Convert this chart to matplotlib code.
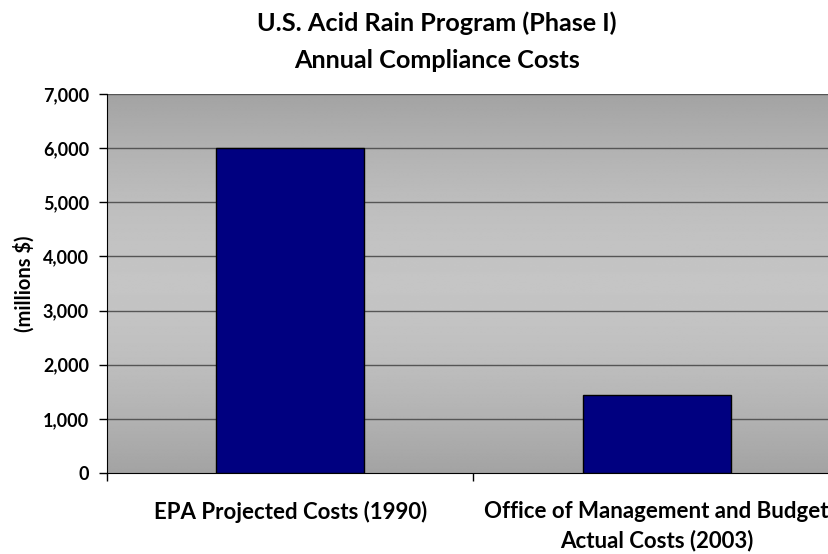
import matplotlib.pyplot as plt
import numpy as np

categories = ['EPA Projected Costs (1990)', 'Office of Management and Budget\nActual Costs (2003)']
costs = [6000, 1440]
yticks = [0, 1000, 2000, 3000, 4000, 5000, 6000, 7000]

plt.rcParams['font.family'] = ['Lato', 'DejaVu Sans']
plt.rcParams['font.weight'] = 'bold'

W, H = 829, 554
fig = plt.figure(figsize=(W / 100, H / 100), dpi=100)
# plot area runs a little past the right edge of the picture
ax = fig.add_axes([107 / W, 1 - 473 / H, 733 / W, (473 - 94) / H])

# gray gradient background, lighter in the middle
t = np.linspace(0, 1, 256)
shade = 0.64 + 0.13 * np.sin(np.pi * t)
grad = np.repeat(shade[:, None], 2, axis=1)
ax.imshow(grad, cmap='gray', vmin=0, vmax=1, aspect='auto',
          extent=[-0.5, 1.5, 0, 7000], zorder=0, interpolation='bilinear')

x = np.arange(len(categories))
ax.bar(x, costs, width=0.404, color='#000080', edgecolor='black', linewidth=1, zorder=3)

ax.set_xlim(-0.5, 1.5)
ax.set_ylim(0, 7000)
ax.set_yticks(yticks)
ax.set_yticklabels([f'{v:,}' for v in yticks], fontsize=13, fontweight='bold')
for v in yticks[1:]:
    ax.axhline(v, color='#555555', linewidth=1, zorder=1)

ax.set_xticks([-0.5, 0.5, 1.5])
ax.set_xticklabels([])
ax.set_xticks(x, minor=True)
ax.set_xticklabels(categories, minor=True, fontsize=16, fontweight='bold', linespacing=1.45)
ax.tick_params(axis='x', which='minor', length=0, pad=20)
ax.tick_params(axis='x', which='major', length=6, width=1)
ax.tick_params(axis='y', length=6, width=1, pad=7)

for s in ['top', 'right']:
    ax.spines[s].set_visible(False)
ax.spines['left'].set_color('black')
ax.spines['bottom'].set_color('black')

fig.text(24 / W, 1 - 284 / H, '(millions $)', rotation=90, ha='center', va='center',
         fontsize=14.5, fontweight='bold')
fig.text(437 / W, 1 - 23 / H, 'U.S. Acid Rain Program (Phase I)',
         ha='center', va='center', fontsize=18.2, fontweight='bold')
fig.text(437 / W, 1 - 60 / H, 'Annual Compliance Costs',
         ha='center', va='center', fontsize=18.2, fontweight='bold')

fig.savefig('out.png', dpi=100)
